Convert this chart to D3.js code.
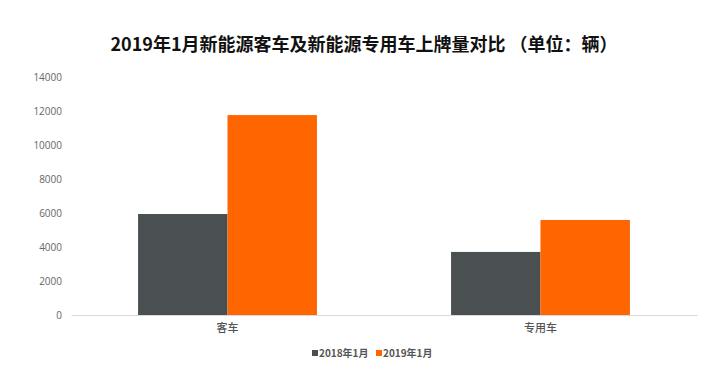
<!DOCTYPE html>
<html><head><meta charset="utf-8">
<script src="https://cdn.jsdelivr.net/npm/d3@7"></script>
<style>body{margin:0;background:#fff;font-family:"Noto Sans CJK SC","Noto Sans",sans-serif;}</style>
</head><body><svg id="c" width="720" height="365"></svg>
<script>
const categories = ["客车", "专用车"];
const seriesNames = ["2018年1月", "2019年1月"];
const values2018 = [5940, 3710];
const values2019 = [11760, 5590];
const yTicks = [0, 2000, 4000, 6000, 8000, 10000, 12000, 14000];
const colors = ["#4a4f52", "#ff6600"];
const title = "2019年1月新能源客车及新能源专用车上牌量对比 （单位：辆）";

const svg = d3.select("#c");
const m = {l: 71, r: 23, t: 77, b: 50};
const W = 720, H = 365;
const x0 = d3.scaleBand().domain(categories).range([m.l, W - m.r]).paddingInner(0.4285).paddingOuter(0.2143);
const x1 = d3.scaleBand().domain(seriesNames).range([0, x0.bandwidth()]);
const y = d3.scaleLinear().domain([0, 14000]).range([H - m.b, m.t]);

svg.append("text").attr("x", 364).attr("y", 51).attr("text-anchor", "middle")
  .attr("font-size", 18).attr("font-weight", "bold").attr("fill", "#111").text(title);

const ya = svg.append("g").attr("transform", `translate(${m.l},0)`)
  .call(d3.axisLeft(y).tickValues(yTicks).tickSize(0).tickPadding(9).tickFormat(d3.format("d")));
ya.select(".domain").remove();
ya.selectAll("text").attr("font-size", 10).attr("fill", "#666").attr("font-family", "'Open Sans','Noto Sans',sans-serif");

const data = categories.map((c, i) => ({c, v: [values2018[i], values2019[i]]}));
const g = svg.append("g");
data.forEach(d => {
  d.v.forEach((v, j) => {
    g.append("rect").attr("x", x0(d.c) + x1(seriesNames[j])).attr("width", x1.bandwidth())
      .attr("y", y(v)).attr("height", y(0) - y(v)).attr("fill", colors[j]);
  });
});

const xa = svg.append("g").attr("transform", `translate(0,${y(0)})`)
  .call(d3.axisBottom(x0).tickSize(0).tickPadding(9));
xa.select(".domain").attr("stroke", "#d9d9d9");
xa.selectAll("text").attr("font-size", 11).attr("font-weight", 500).attr("fill", "#555").attr("font-family", "'Noto Sans CJK SC',sans-serif");

const legend = svg.append("g").attr("transform", "translate(312,357)");
const lx = [0, 64];
seriesNames.forEach((s, j) => {
  legend.append("rect").attr("x", lx[j]).attr("y", -7).attr("width", 6).attr("height", 6).attr("fill", colors[j]);
  legend.append("text").attr("x", lx[j] + 7).attr("y", 0).attr("font-size", 10).attr("font-weight", "bold").attr("fill", "#555").text(s);
});
</script></body></html>
